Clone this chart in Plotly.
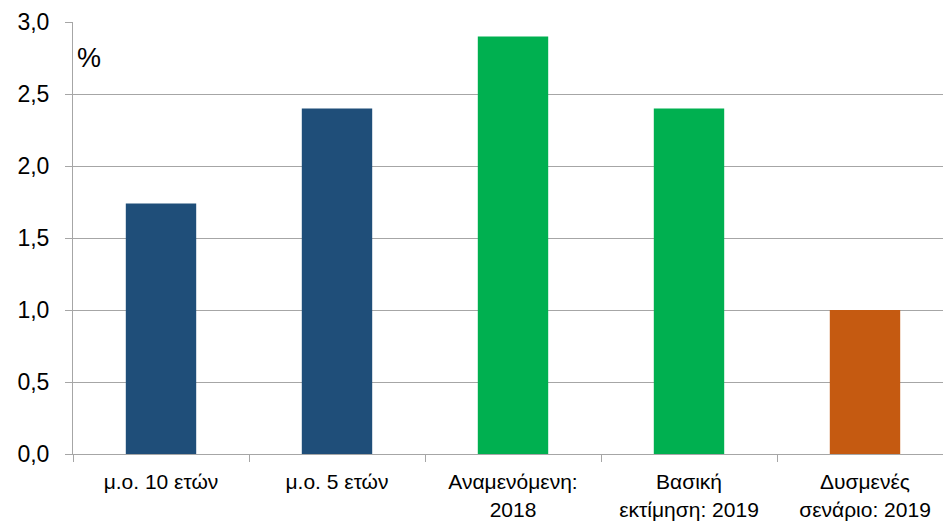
import plotly.graph_objects as go

categories = ["μ.ο. 10 ετών", "μ.ο. 5 ετών", "Αναμενόμενη:<br>2018",
              "Βασική<br>εκτίμηση: 2019", "Δυσμενές<br>σενάριο: 2019"]
values = [1.74, 2.40, 2.90, 2.40, 1.00]
colors = ["#1F4E79", "#1F4E79", "#00B050", "#00B050", "#C55A11"]
y_ticks = [0.0, 0.5, 1.0, 1.5, 2.0, 2.5, 3.0]

grid = "#A6A6A6"
family = "Liberation Sans, Arial, sans-serif"
font = dict(family=family, size=23, color="#000000")
xfont = dict(family=family, size=21, color="#000000")

fig = go.Figure(go.Bar(
    x=categories, y=values, marker=dict(color=colors, line=dict(width=0)),
    width=0.4, hoverinfo="skip",
))

fig.update_layout(
    width=943, height=522,
    margin=dict(l=73, r=0, t=22, b=68),
    paper_bgcolor="white", plot_bgcolor="white",
    separators=",.",
    font=font,
    showlegend=False,
)
fig.update_xaxes(
    type="category", range=[-0.5, -0.5 + 870 / 176], automargin=False,
    showline=True, linecolor=grid, linewidth=1,
    ticks="outside", tickson="boundaries", ticklen=7, tickcolor=grid,
    showgrid=False, tickfont=xfont, ticklabelstandoff=9,
)
fig.update_yaxes(
    range=[0, 3], tickvals=y_ticks, tickformat=".1f", automargin=False,
    showline=True, linecolor=grid, linewidth=1,
    ticks="outside", ticklen=7, tickcolor=grid,
    showgrid=True, gridcolor=grid, gridwidth=1,
    zeroline=False, tickfont=font, ticklabelstandoff=11,
)
fig.add_annotation(text="%", xref="paper", yref="paper", x=0.002, y=0.917,
                   xanchor="left", yanchor="middle", showarrow=False,
                   font=dict(family=family, size=27, color="#000000"))

fig.write_html("out.html")
